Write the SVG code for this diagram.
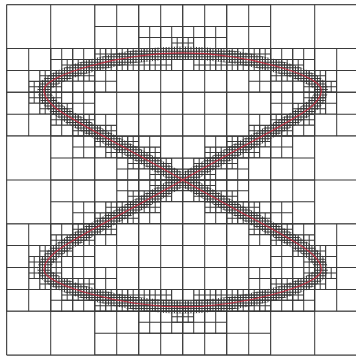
<svg xmlns="http://www.w3.org/2000/svg" width="356" height="357" viewBox="0 0 356 357">
<style>
.g line{stroke:#3a3a3a;fill:none}
</style>
<defs>
<path id="curve" d="M182.7 179.9C82.7 122.9 44 109.9 44 89.9C44 74.9 122.7 52.9 182.7 52.9C242.7 52.9 321.4 74.9 321.4 89.9C321.4 109.9 282.7 122.9 182.7 179.9C82.7 236.9 44 249.9 44 269.9C44 284.9 122.7 306.9 182.7 306.9C242.7 306.9 321.4 284.9 321.4 269.9C321.4 249.9 282.7 236.9 182.7 179.9Z"/>
<filter id="s22" filterUnits="userSpaceOnUse" x="0" y="0" width="356" height="357" color-interpolation-filters="sRGB">
<feFlood flood-color="#fff" x="17" y="14" width="2" height="2"/>
<feOffset dx="0" dy="0" x="7" y="4" width="22" height="22"/>
<feTile x="0" y="0" width="356" height="357" result="grid"/>
<feComposite in="SourceGraphic" in2="grid" operator="in"/>
<feMorphology operator="dilate" radius="10"/>
<feComponentTransfer><feFuncA type="discrete" tableValues="0 1"/></feComponentTransfer>
</filter>
<filter id="s11" filterUnits="userSpaceOnUse" x="0" y="0" width="356" height="357" color-interpolation-filters="sRGB">
<feFlood flood-color="#fff" x="12" y="9" width="1" height="1"/>
<feOffset dx="0" dy="0" x="7" y="4" width="11" height="11"/>
<feTile x="0" y="0" width="356" height="357" result="grid"/>
<feComposite in="SourceGraphic" in2="grid" operator="in"/>
<feMorphology operator="dilate" radius="5"/>
<feComponentTransfer><feFuncA type="discrete" tableValues="0 1"/></feComponentTransfer>
</filter>
<mask id="m4" maskUnits="userSpaceOnUse" x="0" y="0" width="356" height="357">
<rect width="356" height="357" fill="#fff"/>
<g fill="#000">
<rect x="6.7" y="4.7" width="88" height="43.8"/>
<rect x="270.7" y="4.7" width="88" height="43.8"/>
<rect x="6.7" y="311.3" width="88" height="43.8"/>
<rect x="270.7" y="311.3" width="88" height="43.8"/>
<rect x="6.7" y="136.1" width="44" height="87.6"/>
<rect x="314.7" y="136.1" width="44" height="87.6"/>
</g>
</mask>
<mask id="m5" maskUnits="userSpaceOnUse" x="0" y="0" width="356" height="357"><g filter="url(#s22)"><use href="#curve" fill="none" stroke="#fff" stroke-width="40"/></g></mask>
<mask id="m6" maskUnits="userSpaceOnUse" x="0" y="0" width="356" height="357"><g filter="url(#s11)"><use href="#curve" fill="none" stroke="#fff" stroke-width="22"/></g></mask>
<mask id="m7" maskUnits="userSpaceOnUse" x="0" y="0" width="356" height="357"><use href="#curve" fill="none" stroke="#fff" stroke-width="13"/></mask>
</defs>
<rect width="356" height="357" fill="#fff"/>
<g id="level3" class="g">
<line x1="6.2" y1="179.9" x2="359.2" y2="179.9" stroke-width="350.4" stroke-dasharray="1 43"/>
<line x1="182.7" y1="4.2" x2="182.7" y2="355.7" stroke-width="352" stroke-dasharray="1 42.8"/>
</g>
<g id="level4" class="g" mask="url(#m4)">
<line x1="6.2" y1="179.9" x2="359.2" y2="179.9" stroke-width="350.4" stroke-dasharray="1 21"/>
<line x1="182.7" y1="4.2" x2="182.7" y2="355.7" stroke-width="352" stroke-dasharray="1 20.9"/>
</g>
<g id="level5" class="g" mask="url(#m5)">
<line x1="6.2" y1="179.9" x2="359.2" y2="179.9" stroke-width="350.4" stroke-dasharray="1 10"/>
<line x1="182.7" y1="4.2" x2="182.7" y2="355.7" stroke-width="352" stroke-dasharray="1 9.95"/>
</g>
<g id="level6" class="g" mask="url(#m6)">
<line x1="6.2" y1="179.9" x2="359.2" y2="179.9" stroke-width="350.4" stroke-dasharray="1 4.5"/>
<line x1="182.7" y1="4.2" x2="182.7" y2="355.7" stroke-width="352" stroke-dasharray="1 4.475"/>
</g>
<g id="level7" class="g" mask="url(#m7)">
<line x1="6.2" y1="179.9" x2="359.2" y2="179.9" stroke-width="350.4" stroke-dasharray="1 1.75"/>
<line x1="182.7" y1="4.2" x2="182.7" y2="355.7" stroke-width="352" stroke-dasharray="1 1.7375"/>
</g>
<use id="front" href="#curve" fill="none" stroke="#c8283c" stroke-width="1.2" stroke-opacity="0.85"/>
</svg>
